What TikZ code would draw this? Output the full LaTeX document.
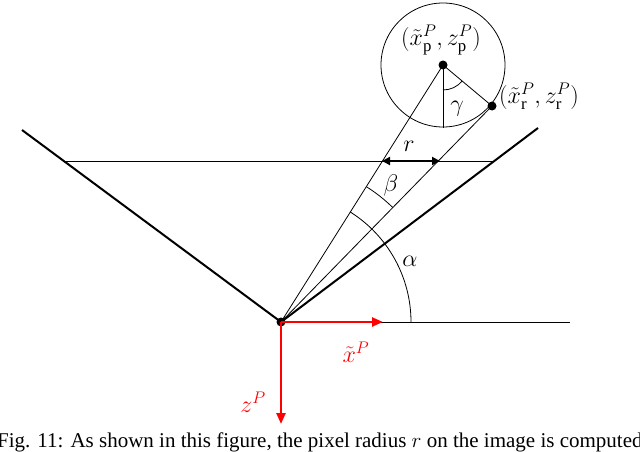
\documentclass[tikz,border=0pt]{standalone}
\usepackage{fix-cm}
\usepackage{fontspec}
\setmainfont{Liberation Serif}
\usetikzlibrary{arrows.meta}
\begin{document}
\begin{tikzpicture}[x=1pt,y=-1pt,
  thin/.style={line width=0.8pt},
  thick2/.style={line width=2pt},
  redarrow/.style={red,line width=2.4pt,-{Triangle[length=11pt,width=9pt]}},
  dot/.style={circle,fill=black,inner sep=0pt,minimum size=9pt},
  lab/.style={font=\fontsize{24}{28}\selectfont,inner sep=1pt}]
\clip (0,0) rectangle (640,452);
\useasboundingbox (0,0) rectangle (640,452);
\coordinate (O) at (281,322);
\coordinate (L) at (22,130);
\coordinate (R) at (538,128);
\coordinate (H) at (570,322);
\coordinate (IL) at (65,161);
\coordinate (IR) at (494,161);
\coordinate (P) at (443,65);
\coordinate (Q) at (492,106);
\coordinate (B) at (443,128);
\draw[thin] (P) circle (62);
\draw[thin] (IL) -- (IR);
\draw[thin] (O) -- (H);
\draw[thin] (O) -- (P) -- (Q) -- (O);
\draw[thin] (P) -- (B);
\draw[thick2] (L) -- (O) -- (R);
\draw[thin] (O) ++(0:130) arc[start angle=0,end angle=-57.8,radius=130];
\draw[thin] (O) ++(-45.7:160) arc[start angle=-45.7,end angle=-57.8,radius=160];
\draw[thin] (P) ++(90:25) arc[start angle=90,end angle=40,radius=25];
\draw[line width=2.2pt,{Triangle[length=8pt,width=8pt]}-{Triangle[length=8pt,width=8pt]}] (382,161) -- (440,161);
\node[dot] (o) at (O) {};
\node[dot] (p) at (P) {};
\node[dot] (q) at (Q) {};
\node[lab] (lr) at (409,146) {$r$};
\node[lab] (lb) at (391,185) {$\beta$};
\node[lab] (lg) at (457,109) {$\gamma$};
\node[lab] (la) at (410,261) {$\alpha$};
\node[lab] (lp) at (441,40) {$(\tilde{x}^{P}_{\mathrm{p}}, z^{P}_{\mathrm{p}})$};
\node[lab,anchor=west] (lq) at (498,96) {$(\tilde{x}^{P}_{\mathrm{r}}, z^{P}_{\mathrm{r}})$};
\coordinate (X) at (383,322);
\coordinate (Z) at (281,424);
\draw[redarrow] (O) -- (X);
\draw[redarrow] (O) -- (Z);
\node[lab,red] (lx) at (356,352) {$\tilde{x}^{P}$};
\node[lab,red] (lz) at (253,402) {$z^{P}$};
\node[anchor=base west,inner sep=0pt,font=\fontsize{21}{24}\selectfont] (cap) at (-3,447) {Fig. 11: As shown in this figure, the pixel radius $r$ on the image is computed};
\end{tikzpicture}
\end{document}
